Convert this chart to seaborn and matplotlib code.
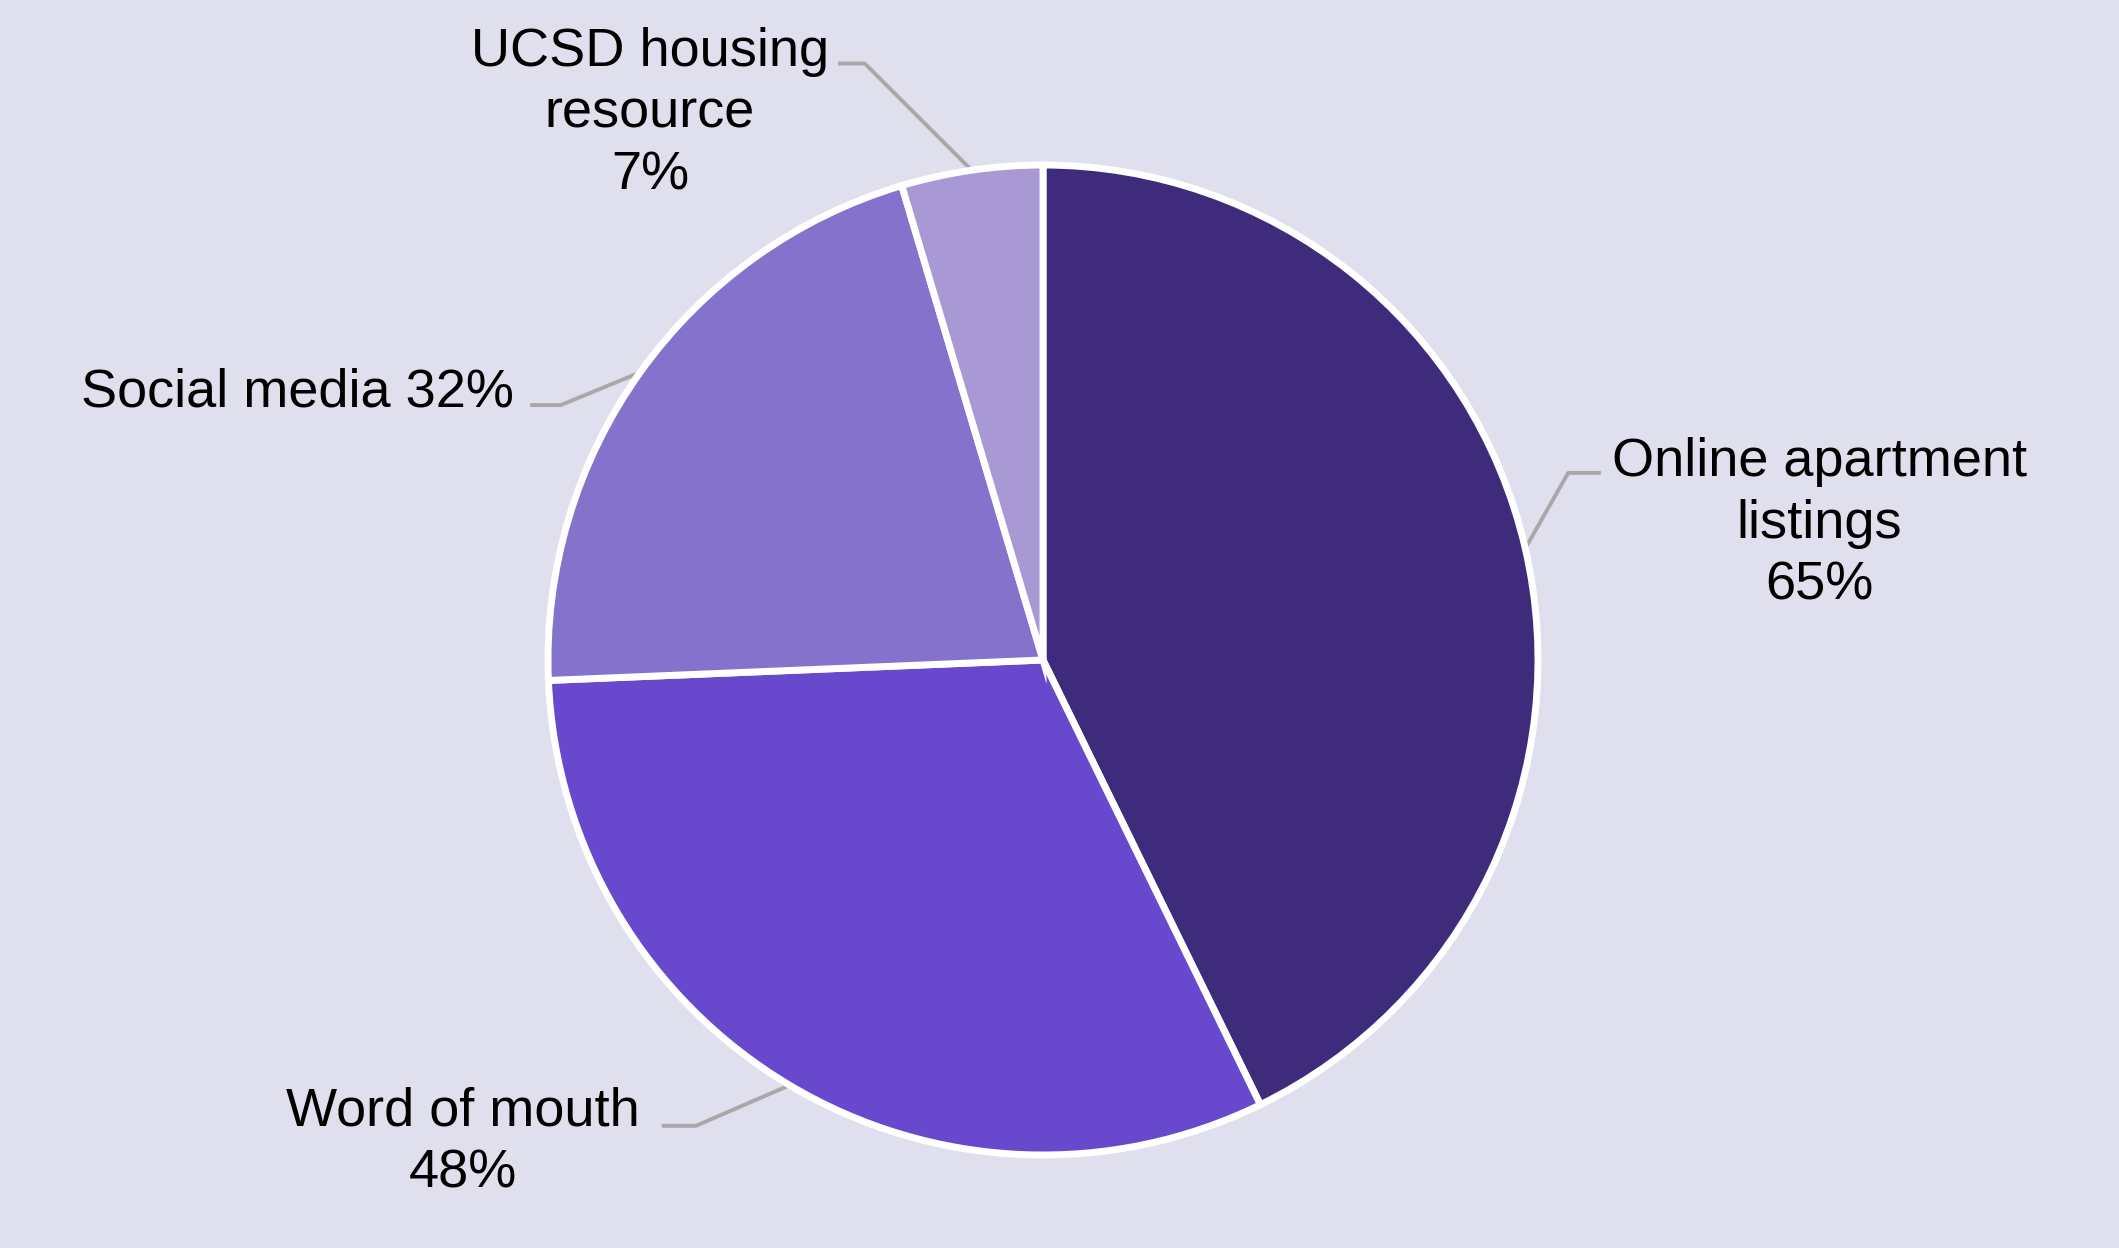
import matplotlib.pyplot as plt
import numpy as np
import seaborn as sns

sns.set_theme(style='white')
plt.rcParams['font.family'] = ['Liberation Sans', 'DejaVu Sans']

# data
labels = ['Online apartment\nlistings', 'Word of mouth', 'Social media', 'UCSD housing\nresource']
values = [65, 48, 32, 7]
colors = ['#3e2b7b', '#6849cd', '#8472cc', '#a899d5']

bg = '#dfdfee'

# label layout: text position, alignment, leader elbow and end (data units, pie radius = 1)
layout = [
    dict(xy=(1.568, 0.45), ha='center', va='top', elbow=(1.061, 0.378), end=(1.127, 0.378)),
    dict(xy=(-1.171, -0.862), ha='center', va='top', elbow=(-0.701, -0.941), end=(-0.770, -0.941)),
    dict(xy=(-1.069, 0.541), ha='right', va='center', elbow=(-0.974, 0.515), end=(-1.036, 0.515)),
    dict(xy=(-0.794, 1.279), ha='center', va='top', elbow=(-0.36, 1.205), end=(-0.414, 1.205)),
]

fig = plt.figure(figsize=(21.19, 12.48), dpi=100, facecolor=bg)
ax = fig.add_axes([0, 0, 1, 1])
ax.set_facecolor(bg)

wedges, _ = ax.pie(
    values,
    colors=colors,
    startangle=90,
    counterclock=False,
    radius=1,
    wedgeprops=dict(edgecolor='white', linewidth=5),
)

for w, lab, v, lay in zip(wedges, labels, values, layout):
    theta = np.deg2rad((w.theta1 + w.theta2) / 2)
    px, py = np.cos(theta), np.sin(theta)
    ex, ey = lay['elbow']
    qx, qy = lay['end']
    ax.plot([px, ex, qx], [py, ey, ey], color='#a8a8a8', lw=2.8, solid_capstyle='butt', zorder=0)
    if lay['ha'] == 'right':
        txt = f'{lab} {v}%'
    else:
        txt = f'{lab}\n{v}%'
    ax.text(lay['xy'][0], lay['xy'][1], txt, ha=lay['ha'], va=lay['va'],
            multialignment='center', fontsize=39, color='black', linespacing=1.3)

# keep the pie at its place: center (1043, 660) px, radius 495 px
cx, cy, r = 1043, 660, 495
W, H = 2119, 1248
ax.set_xlim(-cx / r, (W - cx) / r)
ax.set_ylim(-(H - cy) / r, cy / r)
ax.set_aspect('auto')
ax.axis('off')

fig.savefig('out.png', dpi=100, facecolor=bg)
